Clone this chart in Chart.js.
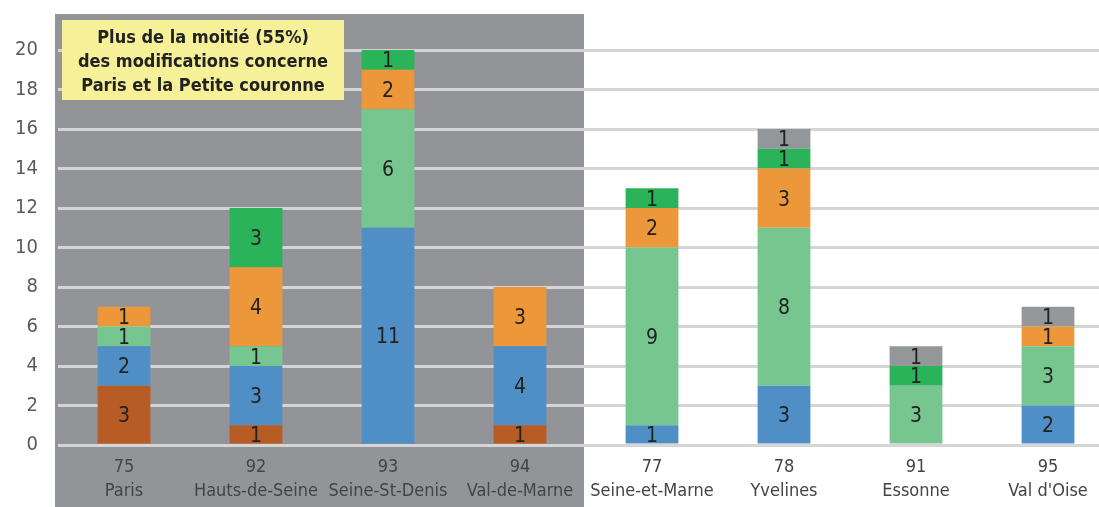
<!DOCTYPE html>
<html>
<head>
<meta charset="utf-8">
<script src="https://cdn.jsdelivr.net/npm/chart.js@4/dist/chart.umd.min.js"></script>
<style>
  html, body { margin: 0; padding: 0; background: #fff; overflow: hidden; }
  #wrap { width: 1114px; height: 507px; position: relative; }
</style>
</head>
<body>
<div id="wrap"><canvas id="chart"></canvas></div>
<script>
const codes = ['75', '92', '93', '94', '77', '78', '91', '95']
const names = ['Paris', 'Hauts-de-Seine', 'Seine-St-Denis', 'Val-de-Marne', 'Seine-et-Marne', 'Yvelines', 'Essonne', "Val d'Oise"]

// stacked from bottom to top
const brown = [3, 1, 0, 1, 0, 0, 0, 0]
const blue = [2, 3, 11, 4, 1, 3, 0, 2]
const lightGreen = [1, 1, 6, 0, 9, 8, 3, 3]
const orange = [1, 4, 2, 3, 2, 3, 0, 1]
const darkGreen = [0, 3, 1, 0, 1, 1, 1, 0]
const grey = [0, 0, 0, 0, 0, 1, 1, 1]

const yTicks = [0, 2, 4, 6, 8, 10, 12, 14, 16, 18, 20]
const noteLines = ['Plus de la moitié (55%)', 'des modifications concerne', 'Paris et la Petite couronne']

const FONT = "'DejaVu Sans Condensed', 'DejaVu Sans', sans-serif"

const labels = codes.map((c, i) => [c, names[i]])

function ds(data, color) {
  return {
    data,
    backgroundColor: color,
    borderWidth: 0,
    categoryPercentage: 1,
    barPercentage: 0.4
  }
}

// grey panel behind the first four departments
const panelPlugin = {
  id: 'panel',
  beforeDraw(chart) {
    const { ctx } = chart
    const x = chart.scales.x
    const right = (x.getPixelForValue(3) + x.getPixelForValue(4)) / 2 - 2
    ctx.save()
    ctx.fillStyle = '#939498'
    ctx.fillRect(55, 14, right - 55, chart.height - 14)
    ctx.restore()
  }
}

const valuePlugin = {
  id: 'values',
  afterDatasetsDraw(chart) {
    const { ctx } = chart
    ctx.save()
    ctx.font = '21px ' + FONT
    ctx.fillStyle = '#222'
    ctx.textAlign = 'center'
    ctx.textBaseline = 'middle'
    chart.data.datasets.forEach((d, di) => {
      chart.getDatasetMeta(di).data.forEach((bar, i) => {
        const v = d.data[i]
        if (!v) return
        ctx.fillText(String(v), bar.x, (bar.y + bar.base) / 2 + 2)
      })
    })
    ctx.restore()
  }
}

const notePlugin = {
  id: 'note',
  afterDraw(chart) {
    const { ctx } = chart
    ctx.save()
    ctx.fillStyle = '#f6f199'
    ctx.fillRect(62, 20, 282, 80)
    ctx.font = 'bold 18px ' + FONT
    ctx.fillStyle = '#222'
    ctx.textAlign = 'center'
    ctx.textBaseline = 'middle'
    noteLines.forEach((t, i) => ctx.fillText(t, 203, 38 + i * 24))
    ctx.restore()
  }
}

new Chart(document.getElementById('chart'), {
  type: 'bar',
  data: {
    labels,
    datasets: [
      ds(brown, '#b85c25'),
      ds(blue, '#4f8fc6'),
      ds(lightGreen, '#77c58f'),
      ds(orange, '#ec973a'),
      ds(darkGreen, '#2bb35a'),
      ds(grey, '#939799')
    ]
  },
  options: {
    responsive: true,
    maintainAspectRatio: false,
    animation: false,
    layout: { padding: { top: 50, left: 0, right: 0, bottom: 0 } },
    plugins: { legend: { display: false }, tooltip: { enabled: false } },
    scales: {
      x: {
        stacked: true,
        grid: { display: false, drawTicks: false },
        border: { display: false },
        ticks: {
          color: '#444',
          font: { family: FONT, size: 18, lineHeight: 1.35 },
          padding: 10,
          maxRotation: 0,
          autoSkip: false
        },
        afterFit(scale) { scale.height = 62 }
      },
      y: {
        stacked: true,
        min: 0,
        max: 20,
        afterBuildTicks(scale) { scale.ticks = yTicks.map(v => ({ value: v })) },
        grid: { color: '#d5d5d5', lineWidth: 3, drawTicks: false },
        border: { display: false },
        ticks: {
          color: '#5a5a5a',
          font: { family: FONT, size: 20 },
          padding: 20
        },
        afterFit(scale) { scale.width = 58 }
      }
    }
  },
  plugins: [panelPlugin, valuePlugin, notePlugin]
})
</script>
</body>
</html>
